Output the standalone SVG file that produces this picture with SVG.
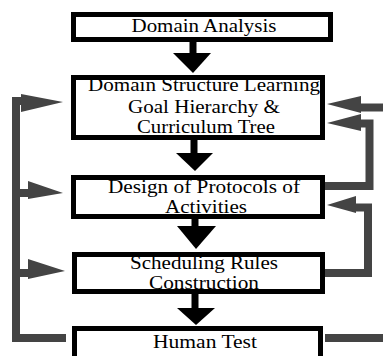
<svg xmlns="http://www.w3.org/2000/svg" width="383" height="356" viewBox="0 0 383 356">
<style>
.box{fill:#fff;stroke:#000;stroke-width:5}
.t{font-family:"Liberation Serif","Times New Roman",serif;font-size:19px;fill:#000;text-anchor:middle}
.fb{fill:none;stroke:#444;stroke-width:8;stroke-linejoin:miter}
.ah{fill:#444}
.sh{stroke:#000;stroke-width:7}
</style>
<rect width="383" height="356" fill="#fff"/>
<g id="connectors">
  <line class="sh" x1="193" y1="42" x2="193" y2="55"/>
  <polygon points="173,53 211,53 193,73"/>
  <line class="sh" x1="194" y1="140" x2="194" y2="155"/>
  <polygon points="176,153 213,153 195,171"/>
  <line class="sh" x1="195" y1="219" x2="195" y2="228"/>
  <polygon points="177,226 216,226 196,249"/>
  <line class="sh" x1="195" y1="294" x2="195" y2="310"/>
  <polygon points="177,308 215,308 196,325"/>
  <path class="fb" d="M 66 338 H 16 V 101 H 24"/>
  <polygon class="ah" points="21,94 63,102 21,112"/>
  <path class="fb" d="M 16 193 H 30"/>
  <polygon class="ah" points="28,181 63,193 28,199"/>
  <path class="fb" d="M 16 273 H 30"/>
  <polygon class="ah" points="28,259 65,271 28,279"/>
  <path class="fb" d="M 325 338 H 383"/>
  <path class="fb" d="M 383 107.5 H 358"/>
  <polygon class="ah" points="361,96 327,104 361,113"/>
  <path class="fb" d="M 325 186 H 369.5 V 123.5 H 358"/>
  <polygon class="ah" points="361,114 327,123 361,131"/>
  <path class="fb" d="M 325 273 H 368 V 207.5 H 352"/>
  <polygon class="ah" points="356,196 327,205 356,213"/>
</g>
<g id="domain-analysis">
  <rect class="box" x="73.5" y="14.5" width="257" height="25"/>
  <text class="t" x="204" y="32" textLength="145" lengthAdjust="spacingAndGlyphs">Domain Analysis</text>
</g>
<g id="domain-structure">
  <rect class="box" x="73.5" y="77.5" width="249" height="60"/>
  <text class="t" x="204" y="91" textLength="232" lengthAdjust="spacingAndGlyphs">Domain Structure Learning</text>
  <text class="t" x="204" y="113" textLength="152" lengthAdjust="spacingAndGlyphs">Goal Hierarchy &amp;</text>
  <text class="t" x="206" y="133" textLength="138" lengthAdjust="spacingAndGlyphs">Curriculum Tree</text>
</g>
<g id="design-protocols">
  <rect class="box" x="73.5" y="177.5" width="249" height="39"/>
  <text class="t" x="204" y="193" textLength="192" lengthAdjust="spacingAndGlyphs">Design of Protocols of</text>
  <text class="t" x="206" y="213" textLength="82" lengthAdjust="spacingAndGlyphs">Activities</text>
</g>
<g id="scheduling-rules">
  <rect class="box" x="74.5" y="254.5" width="248" height="37"/>
  <text class="t" x="204" y="269" textLength="148" lengthAdjust="spacingAndGlyphs">Scheduling Rules</text>
  <text class="t" x="204" y="289" textLength="110" lengthAdjust="spacingAndGlyphs">Construction</text>
</g>
<g id="human-test">
  <rect class="box" x="74.5" y="328.5" width="246" height="40"/>
  <text class="t" x="205" y="348" textLength="104" lengthAdjust="spacingAndGlyphs">Human Test</text>
</g>
</svg>
